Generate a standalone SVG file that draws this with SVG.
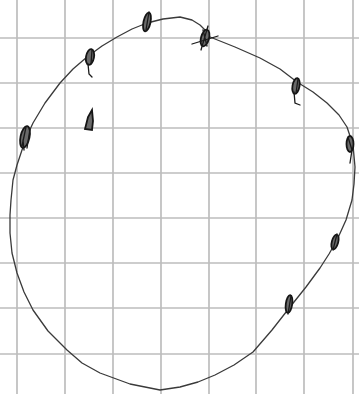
<svg xmlns="http://www.w3.org/2000/svg" width="359" height="394" viewBox="0 0 359 394">
<style>
.grid line{stroke:#bdbdbd;stroke-width:1.7}
.curve{fill:none;stroke:#3a3a3a;stroke-width:1.3;stroke-linejoin:round}
.mark{fill:#6a6a6a;stroke:#151515;stroke-width:1.8}
.mk{fill:none;stroke:#1a1a1a;stroke-width:1.3;stroke-linecap:round}
</style>
<rect width="359" height="394" fill="#fff"/>
<g class="grid" id="grid">
<line x1="17" y1="0" x2="17" y2="394"/>
<line x1="65" y1="0" x2="65" y2="394"/>
<line x1="113" y1="0" x2="113" y2="394"/>
<line x1="161" y1="0" x2="161" y2="394"/>
<line x1="209" y1="0" x2="209" y2="394"/>
<line x1="256" y1="0" x2="256" y2="394"/>
<line x1="304" y1="0" x2="304" y2="394"/>
<line x1="353" y1="0" x2="353" y2="394"/>
<line x1="0" y1="38" x2="359" y2="38"/>
<line x1="0" y1="83" x2="359" y2="83"/>
<line x1="0" y1="128" x2="359" y2="128"/>
<line x1="0" y1="173" x2="359" y2="173"/>
<line x1="0" y1="218" x2="359" y2="218"/>
<line x1="0" y1="263" x2="359" y2="263"/>
<line x1="0" y1="308" x2="359" y2="308"/>
<line x1="0" y1="354" x2="359" y2="354"/>
</g>
<g id="loop">
<polygon class="curve" points="11,200 13,180 17,165 22,150 27,136 33,123 45,103 60,83 73,69 87,57 102,46 117,37 132,29 147,23 163,19 180,17 192,20 200,25 206,31 210,37 235,47 260,58 280,69 297,82 313,92 327,103 339,115 347,127 353,145 355,167 354,184 352,200 346,220 337,240 329,254 320,268 306,287 290,307 272,330 253,352 234,365 215,375 198,382 180,387 160,390 130,384 100,373 82,363 67,350 48,331 33,310 24,292 17,273 12,253 10,233 10,215"/>
</g>
<g id="marks">
<g id="m1"><ellipse class="mark" cx="25" cy="137" rx="4.5" ry="11" transform="rotate(12 25 137)"/><path class="mk" d="M22 146 L26 127 M27 148 L30 129 M23 140 L24 150"/></g>
<g id="m2"><ellipse class="mark" cx="90" cy="57" rx="4" ry="8" transform="rotate(10 90 57)"/><path class="mk" d="M88 64 L89 74 L92 77 M92 50 L91 64"/></g>
<g id="m3"><path class="mark" d="M85 129 L88 117 L92 110 L93 121 L92 130 Z"/></g>
<g id="m4"><ellipse class="mark" cx="147" cy="22" rx="3.5" ry="9.5" transform="rotate(12 147 22)"/><path class="mk" d="M146 30 L149 12"/></g>
<g id="m5"><ellipse class="mark" cx="205" cy="38" rx="4" ry="8.5" transform="rotate(15 205 38)"/><path class="mk" d="M192 44 L218 36 M208 26 L201 50 M203 30 L207 46"/></g>
<g id="m6"><ellipse class="mark" cx="296" cy="86" rx="3.5" ry="8" transform="rotate(10 296 86)"/><path class="mk" d="M294 92 L295 103 L300 105 M298 79 L296 93"/></g>
<g id="m7"><ellipse class="mark" cx="350" cy="144" rx="3.5" ry="8"/><path class="mk" d="M352 150 L350 163 M348 137 L352 150"/></g>
<g id="m8"><ellipse class="mark" cx="335" cy="242" rx="3.2" ry="7.5" transform="rotate(15 335 242)"/><path class="mk" d="M337 234 L333 250"/></g>
<g id="m9"><ellipse class="mark" cx="289" cy="304" rx="3.2" ry="9" transform="rotate(8 289 304)"/><path class="mk" d="M291 296 L288 314"/></g>
</g>
</svg>
